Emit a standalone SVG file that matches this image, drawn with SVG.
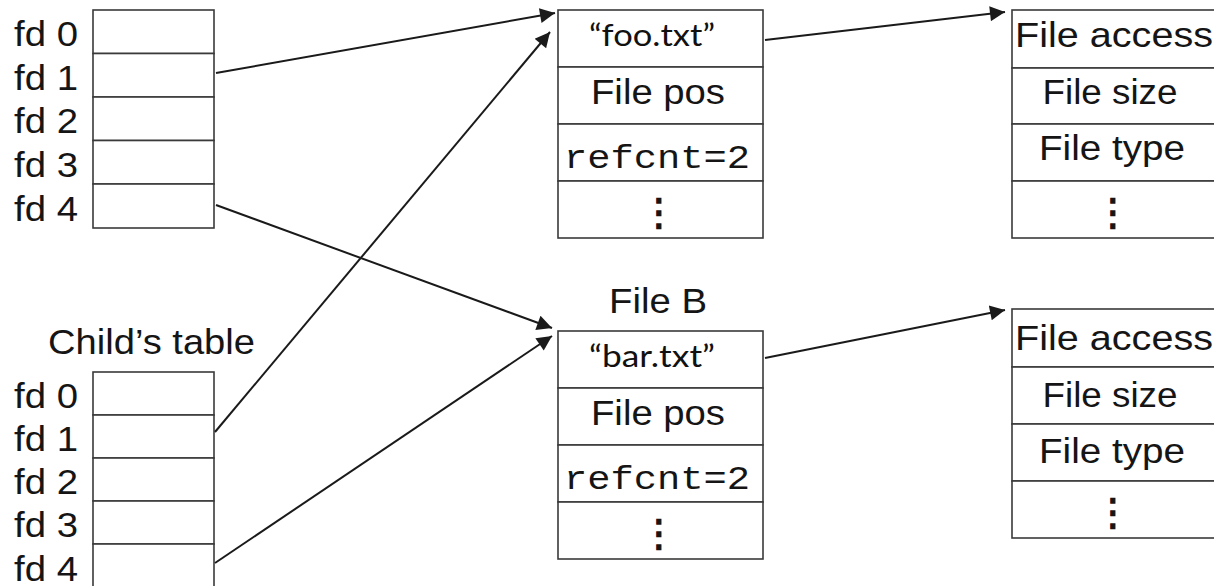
<svg xmlns="http://www.w3.org/2000/svg" width="1214" height="586" viewBox="0 0 1214 586">
  <style>
    .cell { fill: #ffffff; stroke: #3a3a3a; stroke-width: 1.6; }
    .lbl { font-family: "Liberation Sans", Arial, sans-serif; font-size: 35px; fill: #151515; }
    .mono { font-family: "Liberation Mono", "DejaVu Sans Mono", monospace; font-size: 34px; fill: #151515; }
    .cal { font-family: Lato, "Open Sans", sans-serif; font-size: 31px; fill: #111; }
    .dots { font-family: "DejaVu Sans", sans-serif; font-size: 37px; fill: #151515; stroke: #151515; stroke-width: 1.4; }
    .mid { text-anchor: middle; }
    .conn { stroke: #1a1a1a; stroke-width: 2; fill: none; marker-end: url(#arr); }
  </style>
  <defs>
    <marker id="arr" viewBox="0 0 10 10" refX="10" refY="5" markerUnits="userSpaceOnUse" markerWidth="20" markerHeight="15" orient="auto">
      <path d="M0,0 L10,5 L0,10 z" fill="#1a1a1a"/>
    </marker>
  </defs>
  <rect width="1214" height="586" fill="#ffffff"/>

  <g id="parent-table">
    <rect class="cell" x="93" y="10" width="121" height="43.5"/>
    <rect class="cell" x="93" y="53.5" width="121" height="43.5"/>
    <rect class="cell" x="93" y="97" width="121" height="43.5"/>
    <rect class="cell" x="93" y="140.5" width="121" height="43.5"/>
    <rect class="cell" x="93" y="184" width="121" height="44"/>
    <text class="lbl" x="14" y="46" textLength="64" lengthAdjust="spacingAndGlyphs">fd 0</text>
    <text class="lbl" x="14" y="90" textLength="64" lengthAdjust="spacingAndGlyphs">fd 1</text>
    <text class="lbl" x="14" y="133" textLength="64" lengthAdjust="spacingAndGlyphs">fd 2</text>
    <text class="lbl" x="14" y="177" textLength="64" lengthAdjust="spacingAndGlyphs">fd 3</text>
    <text class="lbl" x="14" y="221" textLength="64" lengthAdjust="spacingAndGlyphs">fd 4</text>
  </g>

  <g id="child-table">
    <text class="lbl" x="48" y="354" textLength="207" lengthAdjust="spacingAndGlyphs">Child’s table</text>
    <rect class="cell" x="93" y="372" width="121" height="43"/>
    <rect class="cell" x="93" y="415" width="121" height="43"/>
    <rect class="cell" x="93" y="458" width="121" height="43"/>
    <rect class="cell" x="93" y="501" width="121" height="43"/>
    <rect class="cell" x="93" y="544" width="121" height="50"/>
    <text class="lbl" x="14" y="408" textLength="64" lengthAdjust="spacingAndGlyphs">fd 0</text>
    <text class="lbl" x="14" y="451" textLength="64" lengthAdjust="spacingAndGlyphs">fd 1</text>
    <text class="lbl" x="14" y="494" textLength="64" lengthAdjust="spacingAndGlyphs">fd 2</text>
    <text class="lbl" x="14" y="537" textLength="64" lengthAdjust="spacingAndGlyphs">fd 3</text>
    <text class="lbl" x="14" y="581" textLength="64" lengthAdjust="spacingAndGlyphs">fd 4</text>
  </g>

  <g id="file-a">
    <rect class="cell" x="558" y="10" width="205" height="57"/>
    <rect class="cell" x="558" y="67" width="205" height="57"/>
    <rect class="cell" x="558" y="124" width="205" height="57"/>
    <rect class="cell" x="558" y="181" width="205" height="57"/>
    <text class="cal mid" x="652" y="46" textLength="126" lengthAdjust="spacingAndGlyphs">“foo.txt”</text>
    <text class="lbl mid" x="658" y="104" textLength="134" lengthAdjust="spacingAndGlyphs">File pos</text>
    <text class="mono mid" x="657" y="168" textLength="186" lengthAdjust="spacingAndGlyphs">refcnt=2</text>
    <text class="dots mid" x="659" y="225">⋮</text>
  </g>

  <g id="file-b">
    <text class="lbl mid" x="658" y="313" textLength="98" lengthAdjust="spacingAndGlyphs">File B</text>
    <rect class="cell" x="558" y="331" width="205" height="57"/>
    <rect class="cell" x="558" y="388" width="205" height="57"/>
    <rect class="cell" x="558" y="445" width="205" height="57"/>
    <rect class="cell" x="558" y="502" width="205" height="57"/>
    <text class="cal mid" x="652" y="367" textLength="126" lengthAdjust="spacingAndGlyphs">“bar.txt”</text>
    <text class="lbl mid" x="658" y="425" textLength="134" lengthAdjust="spacingAndGlyphs">File pos</text>
    <text class="mono mid" x="657" y="489" textLength="186" lengthAdjust="spacingAndGlyphs">refcnt=2</text>
    <text class="dots mid" x="659" y="546">⋮</text>
  </g>

  <g id="vnode-a">
    <rect class="cell" x="1012" y="10" width="210" height="58"/>
    <rect class="cell" x="1012" y="68" width="210" height="56"/>
    <rect class="cell" x="1012" y="124" width="210" height="57"/>
    <rect class="cell" x="1012" y="181" width="210" height="57"/>
    <text class="lbl" x="1015" y="47" textLength="198" lengthAdjust="spacingAndGlyphs">File access</text>
    <text class="lbl mid" x="1110" y="104" textLength="135" lengthAdjust="spacingAndGlyphs">File size</text>
    <text class="lbl mid" x="1112" y="160" textLength="146" lengthAdjust="spacingAndGlyphs">File type</text>
    <text class="dots mid" x="1113" y="225">⋮</text>
  </g>

  <g id="vnode-b">
    <rect class="cell" x="1012" y="309" width="210" height="58"/>
    <rect class="cell" x="1012" y="367" width="210" height="57"/>
    <rect class="cell" x="1012" y="424" width="210" height="57"/>
    <rect class="cell" x="1012" y="481" width="210" height="57"/>
    <text class="lbl" x="1015" y="350" textLength="198" lengthAdjust="spacingAndGlyphs">File access</text>
    <text class="lbl mid" x="1110" y="407" textLength="135" lengthAdjust="spacingAndGlyphs">File size</text>
    <text class="lbl mid" x="1112" y="463" textLength="146" lengthAdjust="spacingAndGlyphs">File type</text>
    <text class="dots mid" x="1113" y="525">⋮</text>
  </g>

  <g id="connectors">
    <line class="conn" x1="216" y1="73" x2="555" y2="13"/>
    <line class="conn" x1="215" y1="432" x2="550" y2="32"/>
    <line class="conn" x1="216" y1="205" x2="552" y2="328"/>
    <line class="conn" x1="215" y1="563" x2="552" y2="336"/>
    <line class="conn" x1="765" y1="40" x2="1005" y2="12"/>
    <line class="conn" x1="765" y1="358" x2="1005" y2="310"/>
  </g>
</svg>
